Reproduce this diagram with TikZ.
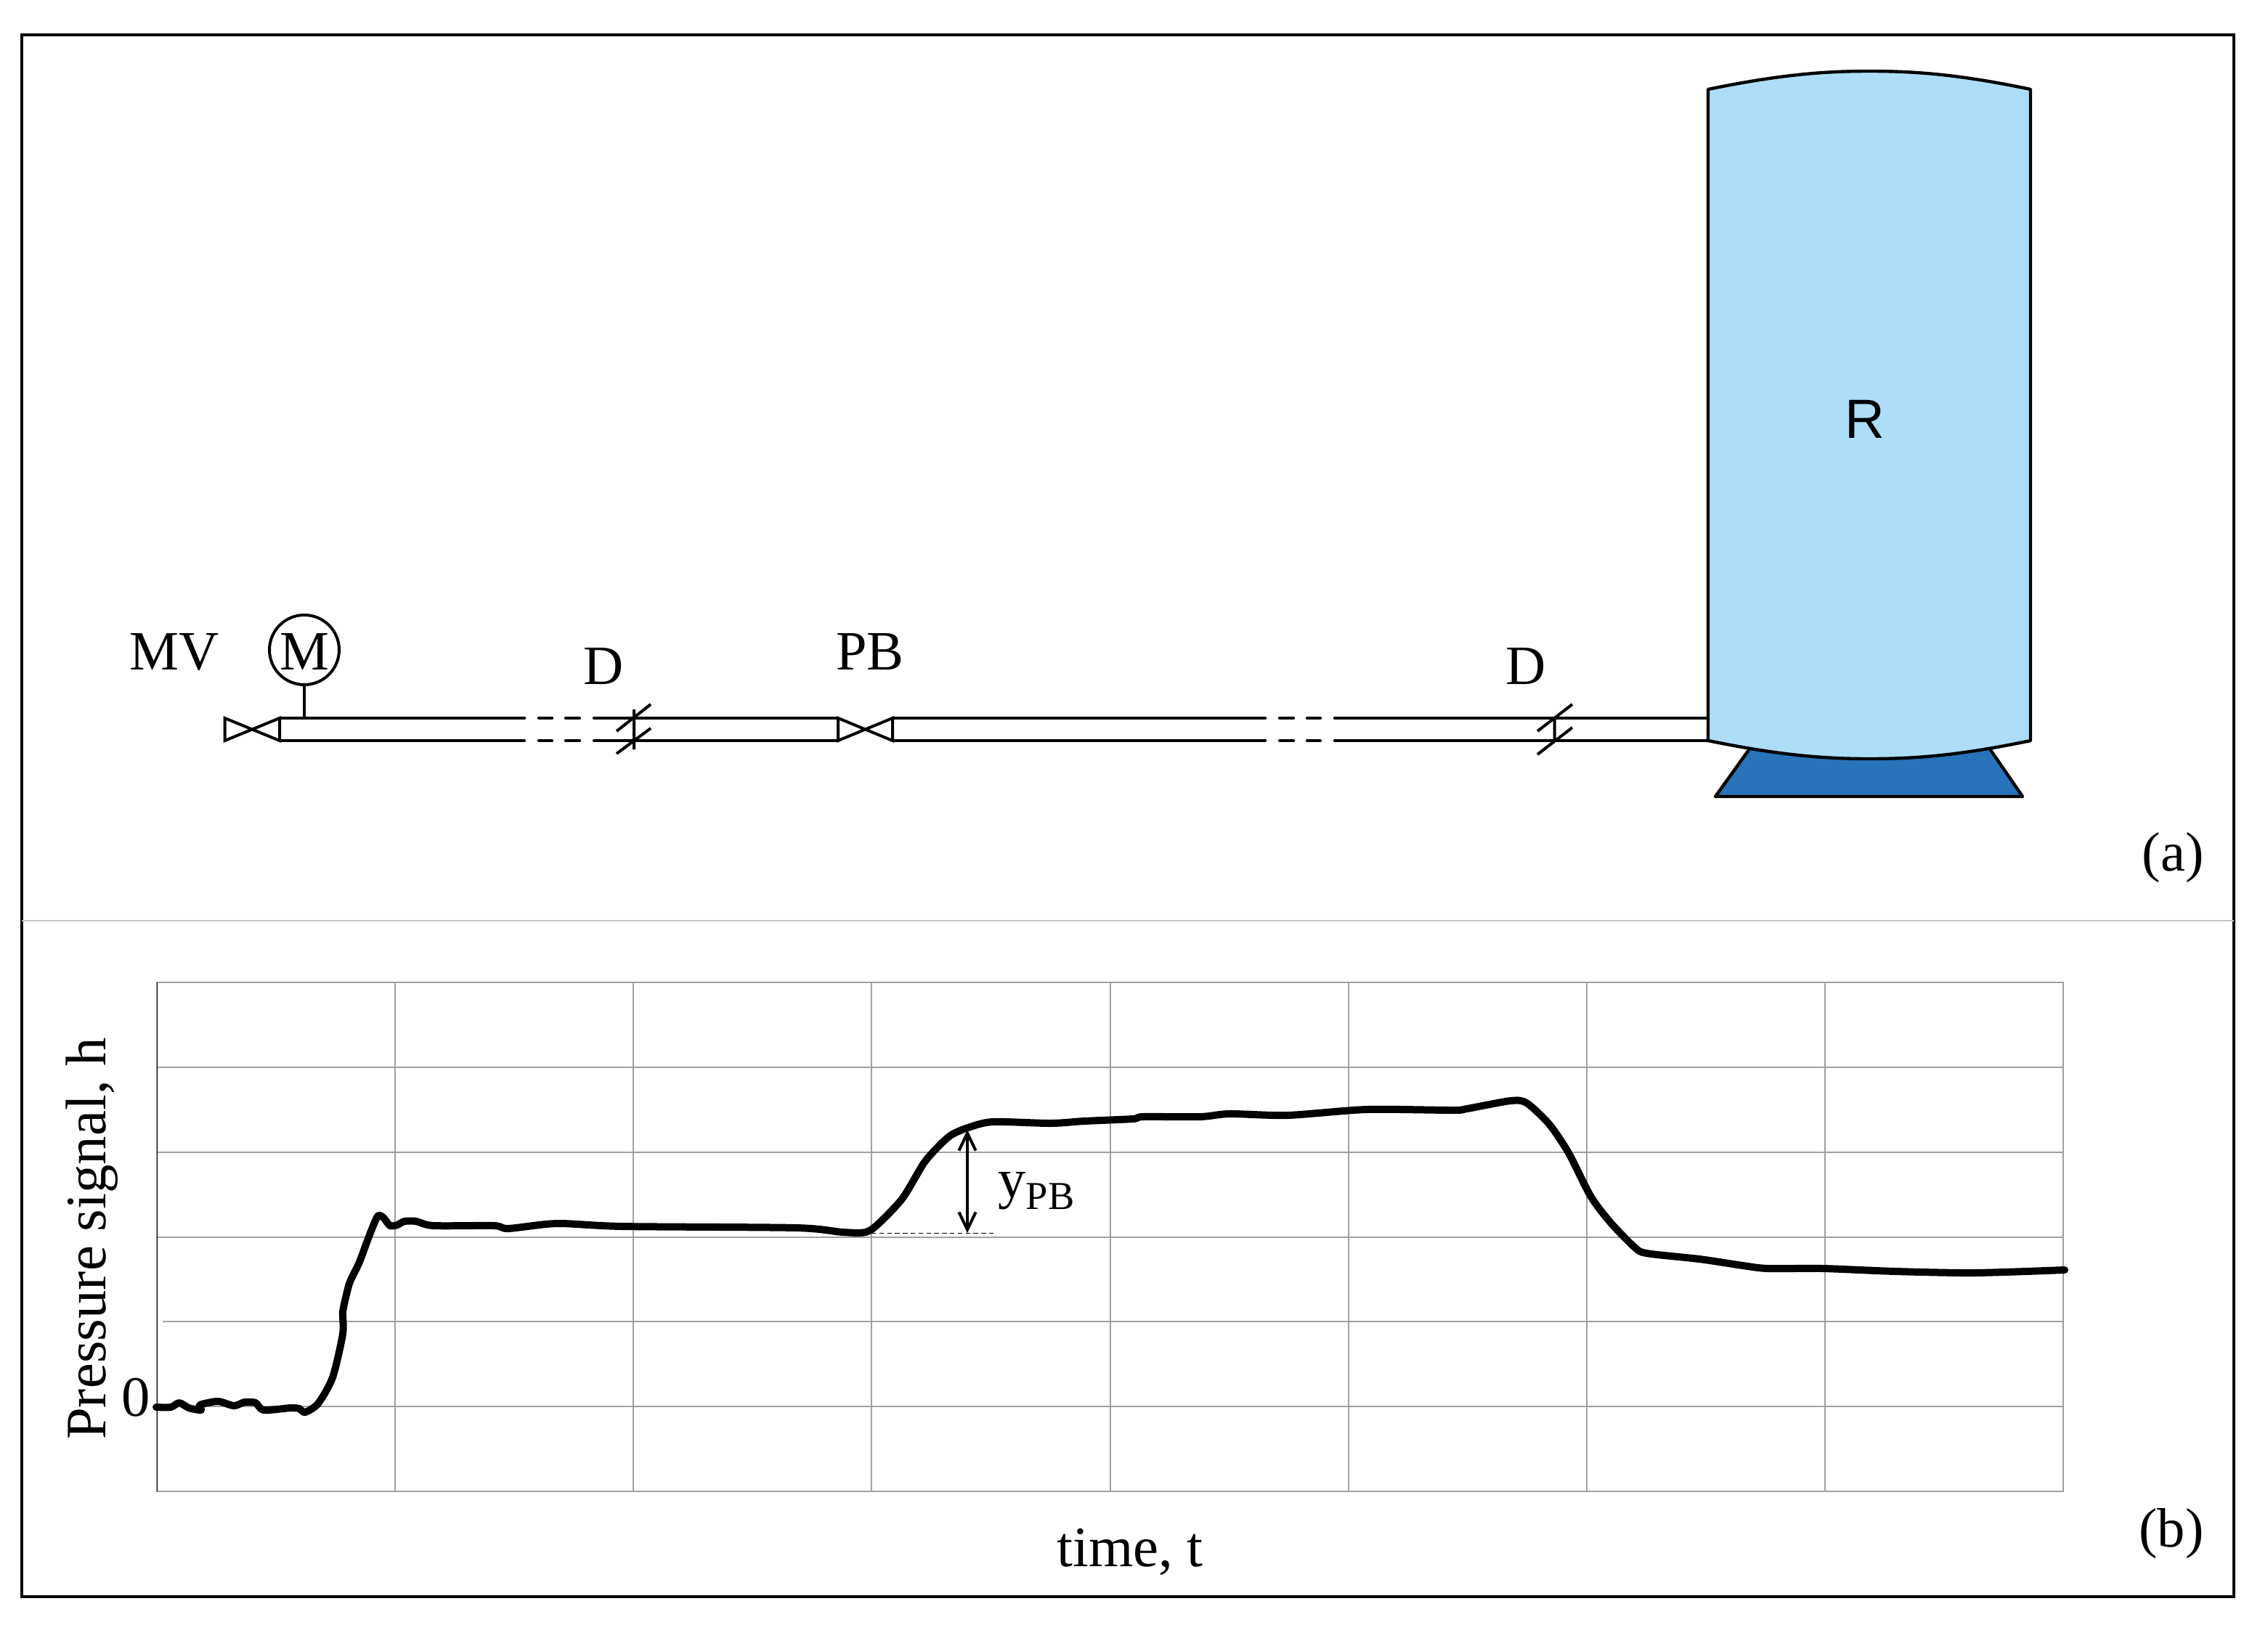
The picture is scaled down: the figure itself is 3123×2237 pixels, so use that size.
\documentclass[tikz,border=0pt]{standalone}
\usepackage{fontspec}
\setmainfont{Liberation Serif}
\newfontfamily\tanklabelfont{Liberation Sans}
\usetikzlibrary{arrows.meta, positioning}
\definecolor{tankblue}{RGB}{174,221,247}
\definecolor{footblue}{RGB}{40,115,186}
\definecolor{gridgray}{RGB}{160,160,160}

\begin{document}
\begin{tikzpicture}[x=0.25pt, y=-0.25pt]
	\tikzset {
		txt/.style={inner sep=0pt, anchor=base, font=\fontsize{19.1}{20}\selectfont},
		axistxt/.style={inner sep=0pt, anchor=base, font=\fontsize{19.7}{21}\selectfont},
		pipeline/.style={line width=1.1pt, line cap=round},
		thinline/.style={line width=1pt},
		grid line/.style={gridgray, line width=0.3pt},
		outline/.style={line width=1.1pt, line join=round}
	}
	\useasboundingbox (0,0) rectangle (3123,2237);
	\draw[line width=1.1pt] (30,48) rectangle (3076,2199);
	\draw[gridgray!60, line width=0.35pt] (30,1268) -- (3076,1268);

	% pipe, top and bottom wall
	\foreach \y in {989,1020} {
		\foreach \xa/\xb in {385/722, 742/760, 779/798, 818/1154, 1229/1742, 1762/1781, 1800/1818, 1838/2351}
			\draw[pipeline] (\xa,\y) -- (\xb,\y);
	}
	% valves
	\foreach \xa/\xb in {309.5/385, 1154/1229}
		\draw[thinline, fill=white] (\xa,989) -- (\xb,1020) -- (\xb,989) -- (\xa,1020) -- cycle;
	% pipe breaks
	\draw[thinline] (873,977) -- (873,1032) (849,1007) -- (896,970) (849,1038) -- (896,1003);
	\draw[thinline] (2140.5,989) -- (2140.5,1020) (2117,1007) -- (2165,970) (2117,1039) -- (2165,1002);

	% motor
	\node[circle, draw, line width=1pt, minimum size=24pt, inner sep=0pt] (motor) at (419,895) {};
	\coordinate (motorfoot) at (419,989);
	\draw[thinline] (motor) -- (motorfoot);
	\node[txt] (mlabel) at (419,922) {M};
	\node[txt] (mv) at (240,922) {MV};
	\node[txt] (d1) at (831,942) {D};
	\node[txt] (pb) at (1198,922) {PB};
	\node[txt] (d2) at (2101,942) {D};

	% vessel
	\draw[outline, fill=footblue] (2362,1097) -- (2410,1030) -- (2739,1030) -- (2785,1097) -- cycle;
	\draw[outline, fill=tankblue] (2352,123) .. controls (2450,103) and (2510,98) .. (2574,98)
		.. controls (2640,98) and (2700,103) .. (2796,123) -- (2796,1020)
		.. controls (2700,1040) and (2640,1045) .. (2574,1045)
		.. controls (2510,1045) and (2450,1040) .. (2352,1020) -- cycle;
	\node[inner sep=0pt, anchor=base, font=\tanklabelfont\fontsize{19}{21}\selectfont] (rlabel) at (2568,603) {R};
	\node[txt] (a) at (2992,1199) {(a)};

	% chart grid
	\foreach \y in {1470,1587,1704,1937}
		\draw[grid line] (216,\y) -- (2841,\y);
	\draw[grid line] (224,1820) -- (2841,1820);
	\foreach \x in {544,872,1200,1529,1857,2185,2513}
		\draw[grid line] (\x,1353) -- (\x,2054);
	\draw[grid line] (216,1353) rectangle (2841,2054);
	\draw[black, line width=0.25pt] (216,1353) -- (216,2054);

	% signal
	\draw[line width=2.5pt, line cap=round, line join=round] plot[smooth, tension=0.45] coordinates {
		(215,1938) (235,1938) (247,1932) (260,1939) (277,1942) (275,1935) (300,1930) (322,1936)
		(337,1931) (352,1932) (363,1942) (400,1939) (412,1940) (420,1945) (438,1933) (458,1897)
		(472,1837) (472,1807) (477,1783) (482,1765) (495,1738) (508,1703) (520,1675) (528,1677)
		(537,1688) (547,1687) (557,1682) (573,1682) (597,1688) (680,1688) (700,1692) (767,1685)
		(857,1689) (1096,1691) (1160,1697) (1192,1697) (1210,1685) (1243,1650) (1272,1602)
		(1293,1578) (1310,1563) (1333,1553) (1367,1545) (1447,1547) (1493,1544) (1560,1541)
		(1574,1538) (1653,1538) (1693,1534) (1773,1536) (1882,1528) (2000,1529) (2020,1527)
		(2080,1516) (2102,1519) (2133,1548) (2160,1588) (2190,1647) (2217,1683) (2250,1717)
		(2267,1726) (2340,1734) (2400,1743) (2434,1747) (2510,1747) (2610,1751) (2719,1753) (2843,1749)
	};

	% step height
	\coordinate (ybase) at (1200,1698);
	\coordinate (yend) at (1370,1698);
	\coordinate (ylow) at (1332,1698);
	\coordinate (yhigh) at (1332,1556);
	\draw[line width=0.25pt, dash pattern=on 1.6pt off 1.1pt] (ybase) -- (yend);
	\draw[{Straight Barb[length=6pt, width=5.8pt]}-{Straight Barb[length=6pt, width=5.8pt]}, line width=1pt] (yhigh) -- (ylow);
	\node[txt] (ypb) at (1427,1649) {y\raisebox{-4pt}{\fontsize{13.6}{14}\selectfont PB}};

	% axis texts
	\node[axistxt] (zero) at (187,1950) {0};
	\node[axistxt, rotate=90] (hlabel) at (145,1706) {Pressure signal, h};
	\node[axistxt] (tlabel) at (1556,2157) {time, t};
	\node[txt] (b) at (2990,2130) {(b)};
\end{tikzpicture}
\end{document}
